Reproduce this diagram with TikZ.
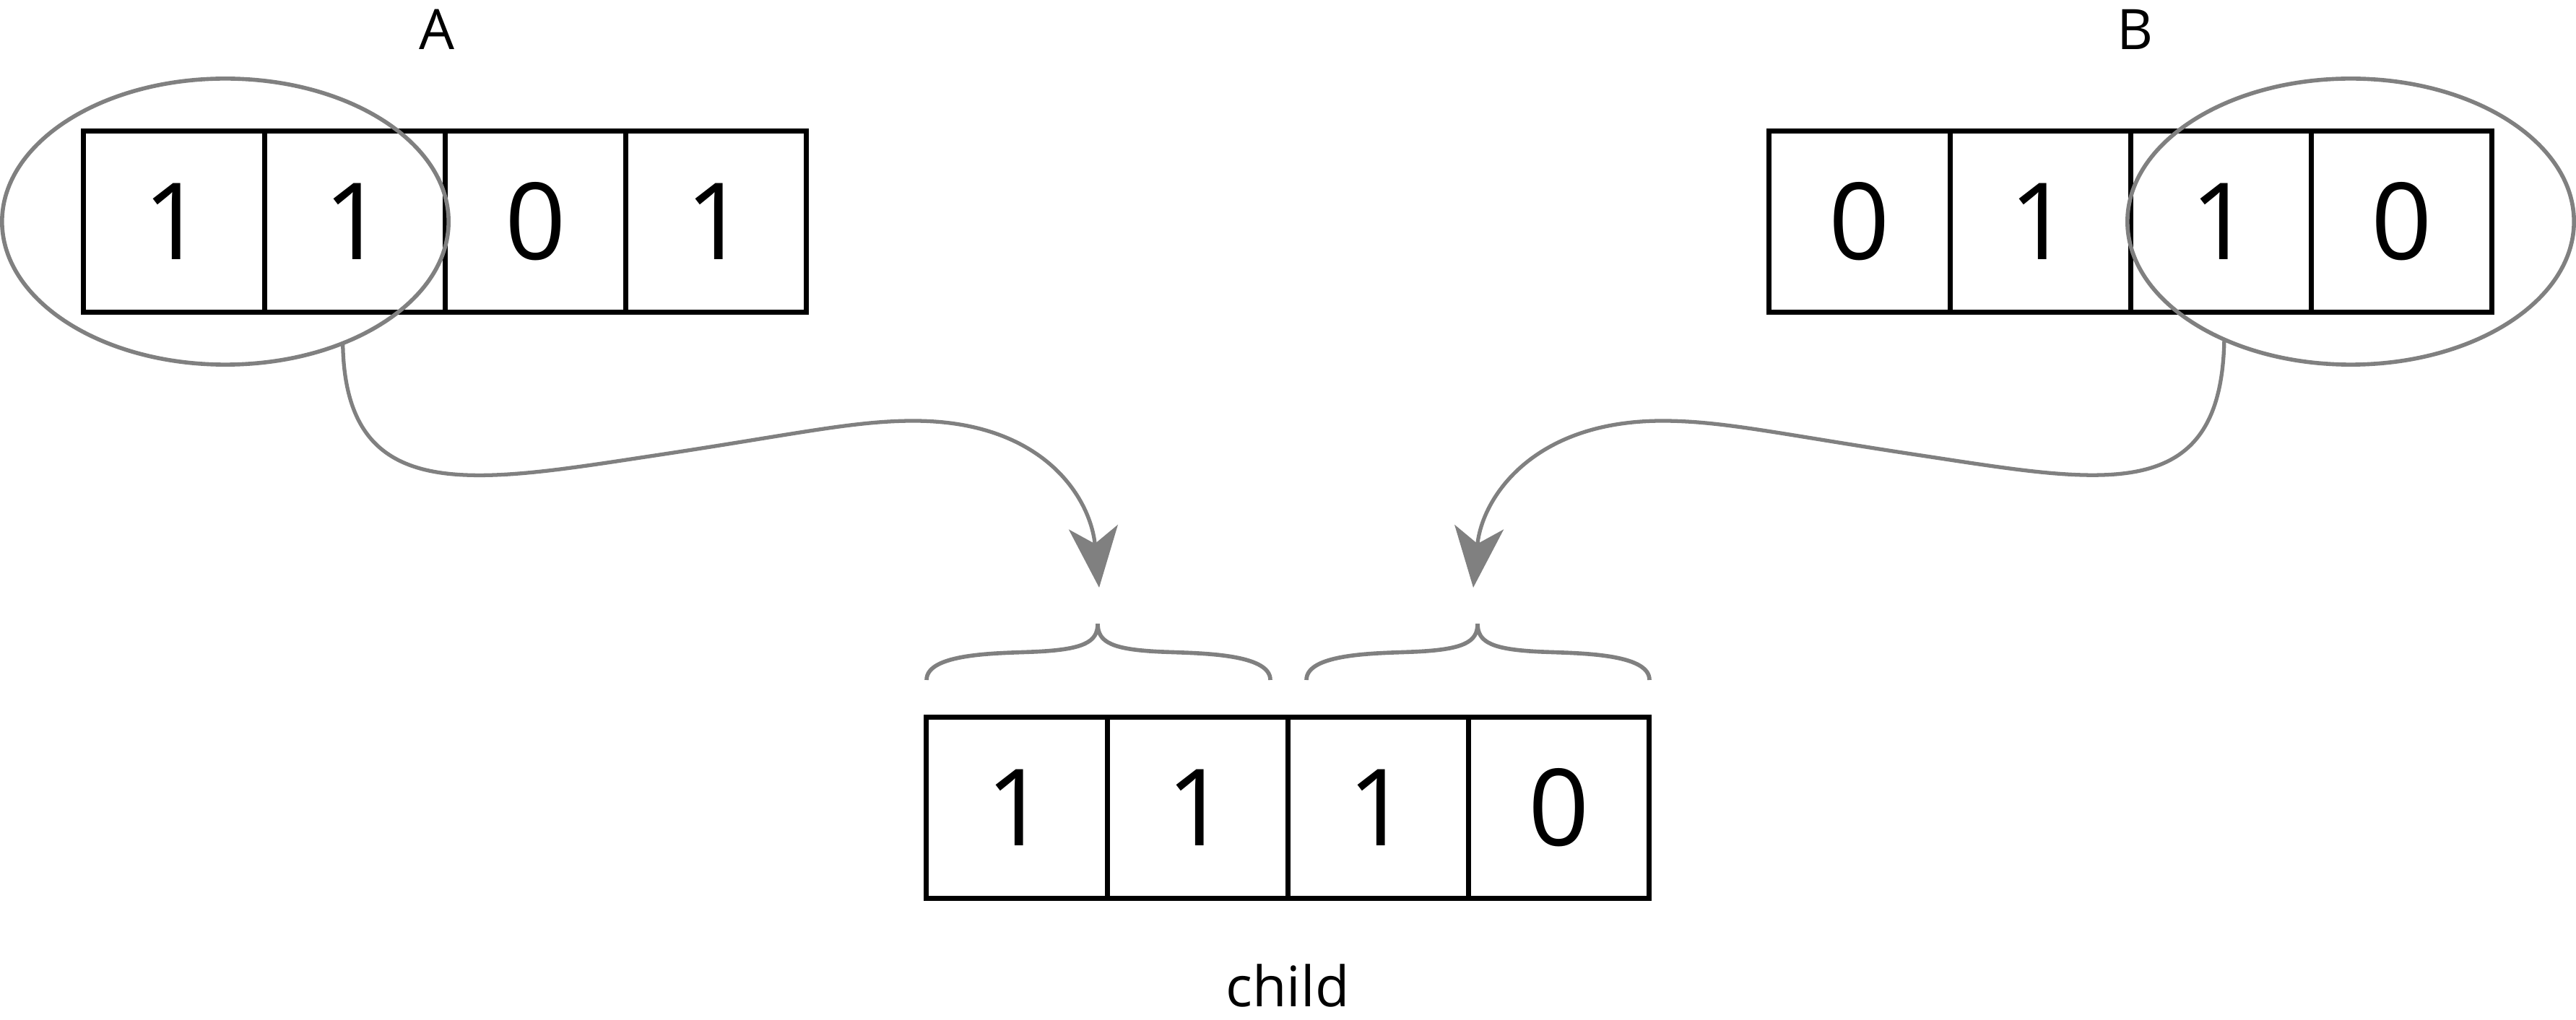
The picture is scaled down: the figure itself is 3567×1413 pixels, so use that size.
\documentclass[tikz,border=0pt]{standalone}
\usepackage{fontspec}
\setmainfont{Open Sans}
\usetikzlibrary{positioning, arrows.meta, shapes.geometric}

\begin{document}
\begin{tikzpicture}[x=0.01cm, y=-0.01cm,
  cell/.style = {draw, line width=2pt, minimum width=2.5cm, minimum height=2.5cm, inner sep=0pt, outer sep=0pt, font=\fontsize{42}{42}\selectfont},
  pick/.style = {draw=gray, line width=1.6pt, ellipse, minimum width=6.18cm, minimum height=3.96cm, inner sep=0pt, outer sep=0pt},
  link/.style = {draw=gray, line width=1.5pt, -{Stealth[length=0.84cm, width=0.68cm, inset=0.23cm]}},
  half/.style = {draw=gray, line width=1.6pt},
  title/.style = {font=\fontsize{22}{22}\selectfont}]
  \useasboundingbox (0,0) rectangle (3567,1413);
  % parent A
  \node[cell] (a1) at (241,307) {1};
  \node[cell] (a2) [right=0pt of a1] {1};
  \node[cell] (a3) [right=0pt of a2] {0};
  \node[cell] (a4) [right=0pt of a3] {1};
  \node[title] (la) at (605,41) {A};
  % parent B
  \node[cell] (b1) at (2575,307) {0};
  \node[cell] (b2) [right=0pt of b1] {1};
  \node[cell] (b3) [right=0pt of b2] {1};
  \node[cell] (b4) [right=0pt of b3] {0};
  \node[title] (lb) at (2957,41) {B};
  % child
  \node[cell] (c1) at (1408,1119) {1};
  \node[cell] (c2) [right=0pt of c1] {1};
  \node[cell] (c3) [right=0pt of c2] {1};
  \node[cell] (c4) [right=0pt of c3] {0};
  \node[title] (lc) at (1783,1365) {child};
  % selected halves
  \node[pick] (selA) at (312,307) {};
  \node[pick] (selB) at (3255,307) {};
  \coordinate (tipA) at (1522,814);
  \coordinate (tipB) at (2040,814);
  \draw[link] (selA.-46) .. controls (478,700) and (650,670) .. (900,632) .. controls (1100,602) and (1180,583) .. (1265,583) .. controls (1445,583) and (1510,690) .. (tipA);
  \draw[link] (selB.-137) .. controls (3076,700) and (2917,670) .. (2667,632) .. controls (2467,602) and (2387,583) .. (2302,583) .. controls (2122,583) and (2052,690) .. (tipB);
  % braces
  \draw[half] (1283,942) .. controls (1283,905) and (1380,905) .. (1430,903) .. controls (1500,900) and (1520,890) .. (1520,864)
    .. controls (1520,890) and (1540,900) .. (1610,903) .. controls (1660,905) and (1759,905) .. (1759,942);
  \draw[half] (1809,942) .. controls (1809,905) and (1906,905) .. (1956,903) .. controls (2026,900) and (2046,890) .. (2046,864)
    .. controls (2046,890) and (2066,900) .. (2136,903) .. controls (2186,905) and (2284,905) .. (2284,942);
\end{tikzpicture}
\end{document}
